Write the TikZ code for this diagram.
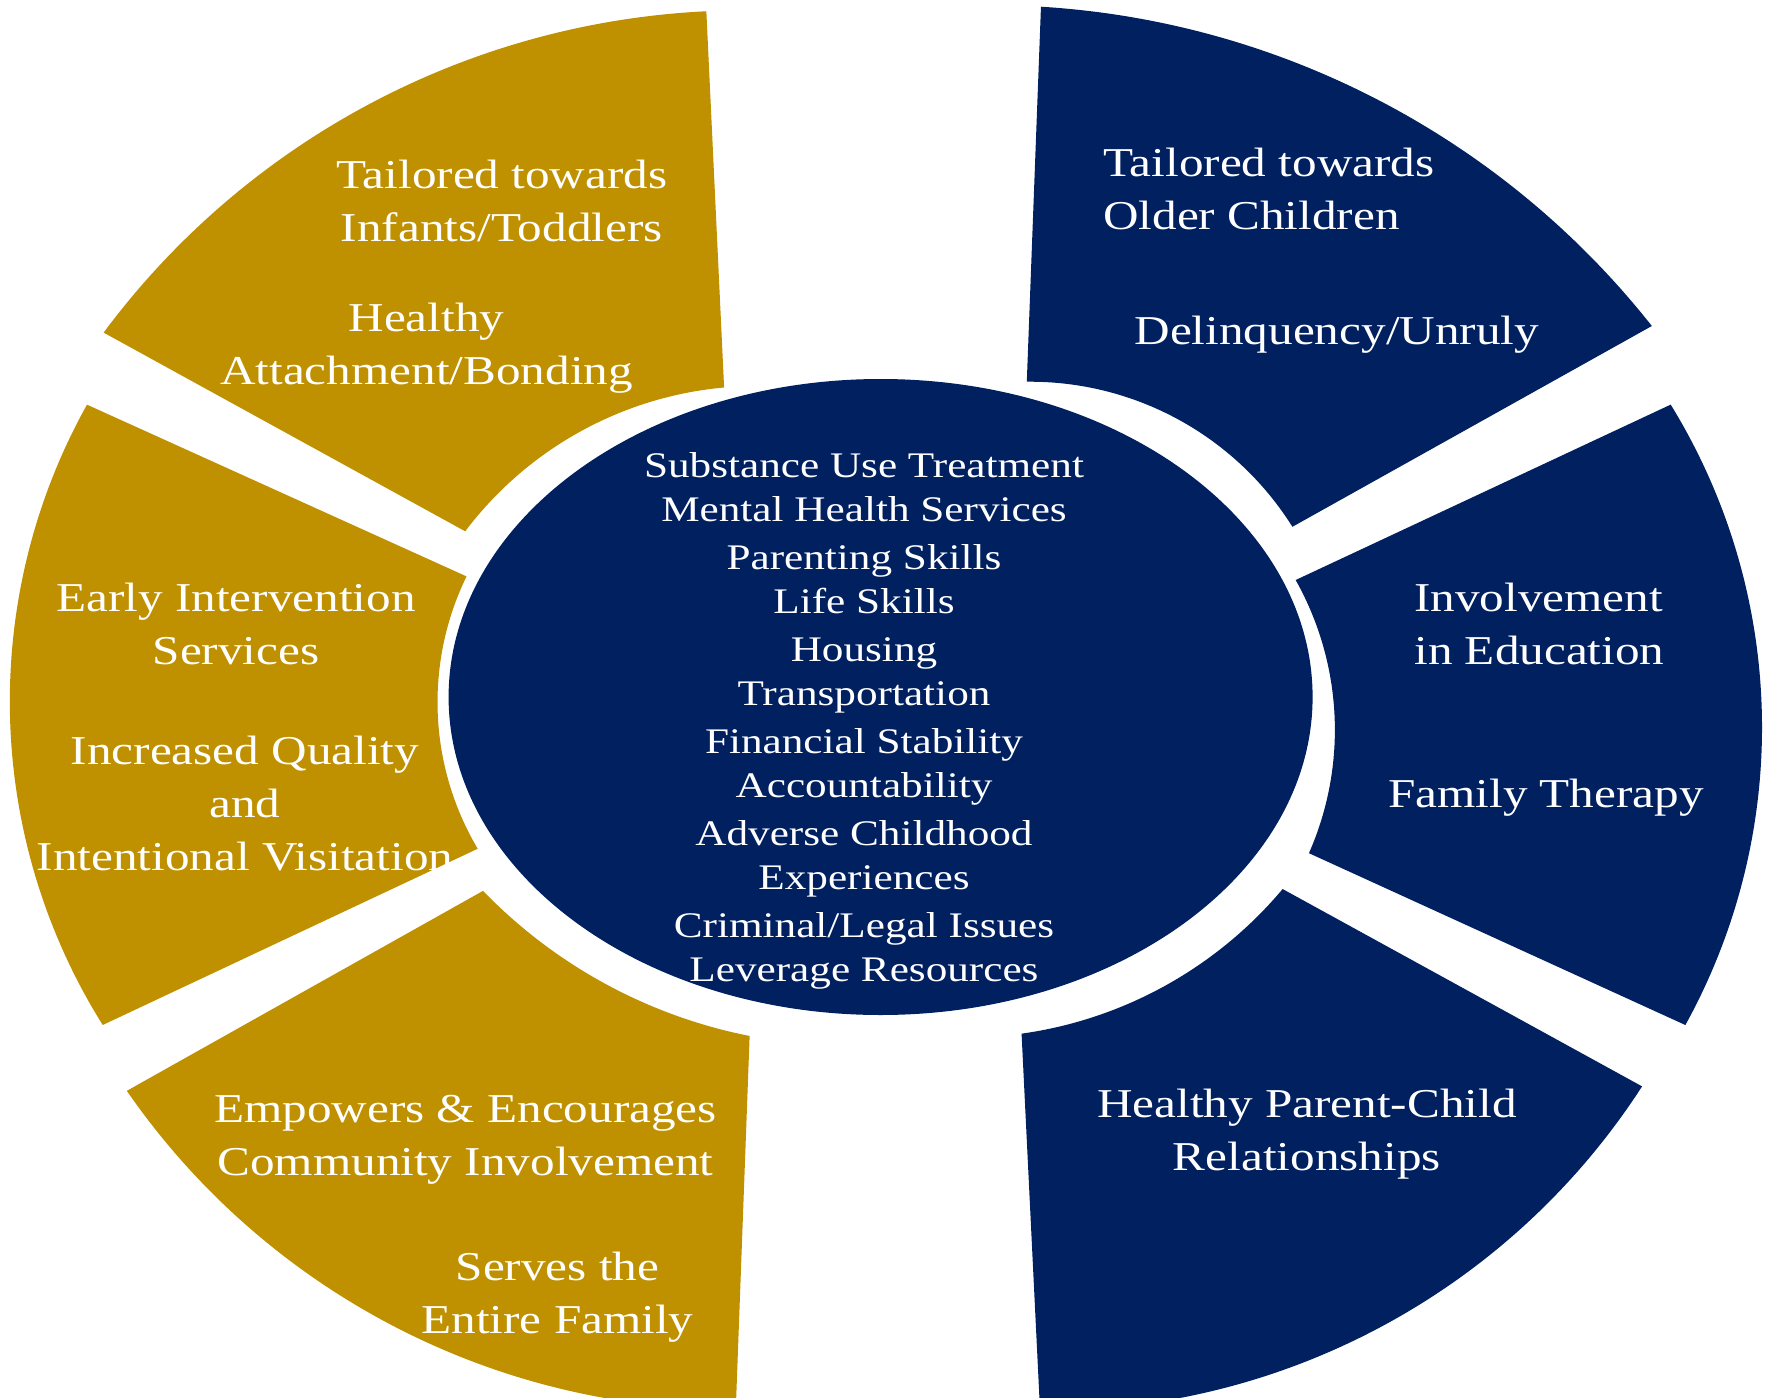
\documentclass[tikz,border=0pt]{standalone}
\usepackage{fontspec}
\setmainfont{Liberation Serif}[FakeStretch=1.2]
\definecolor{gold}{RGB}{191,144,0}
\definecolor{navy}{RGB}{0,32,96}
\begin{document}
\begin{tikzpicture}[x=0.5pt,y=-0.5pt,
  lbl/.style={text=white, inner sep=0pt, align=center, font=\fontsize{20.5}{26.5}\selectfont},
  lbll/.style={lbl, align=left, anchor=west},
  ctr/.style={text=white, inner sep=0pt, align=center, font=\fontsize{18}{21.7}\selectfont}]
\useasboundingbox (0,0) rectangle (1768,1398);
\clip (0,0) rectangle (1768,1398);
% top-left segment
\fill[gold] ([shift={(756.9,751.5)}]-142.95:365.5) arc[start angle=-142.95, end angle=-95.15, radius=365.5]
  -- ([shift={(744.8,809.3)}]-92.76:799) arc[start angle=-92.76, end angle=-143.37, radius=799] -- cycle;
% left segment
\fill[gold] ([shift={(724.8,702.2)}]205.97:287.3) arc[start angle=205.97, end angle=149.33, radius=287.3]
  -- ([shift={(619.4,701.5)}]147.95:609.6) arc[start angle=147.95, end angle=209.14, radius=609.6] -- cycle;
% bottom-left segment
\fill[gold] ([shift={(848,537.8)}]135.95:507.8) arc[start angle=135.95, end angle=101.17, radius=507.8]
  -- (736.2,1398) -- (735.4,1420)
  -- ([shift={(734.5,670.7)}]98:738.8) arc[start angle=98, end angle=145.34, radius=738.8] -- cycle;
% top-right segment
\fill[navy] ([shift={(1030.2,691.2)}]-90.63:309.5) arc[start angle=-90.63, end angle=-32.09, radius=309.5]
  -- ([shift={(989.6,849)}]-38.30:843.9) arc[start angle=-38.30, end angle=-86.51, radius=843.9] -- cycle;
% right segment
\fill[navy] ([shift={(1028.9,729.9)}]-29.33:306) arc[start angle=-29.33, end angle=23.76, radius=306]
  -- ([shift={(1146,727.4)}]28.89:616.05) arc[start angle=28.89, end angle=-31.60, radius=616.05] -- cycle;
% bottom-right segment
\fill[navy] ([shift={(963.8,621.5)}]82.02:416.2) arc[start angle=82.02, end angle=40.0, radius=416.2]
  -- ([shift={(1046.8,702)}]32.85:708.6) arc[start angle=32.85, end angle=81, radius=708.6]
  -- (1040.5,1420) -- cycle;
% centre
\fill[navy] (880.6,697) ellipse [x radius=432, y radius=318];

\node[lbl] (tl1) at (501.8,201.3) {Tailored towards\\Infants/Toddlers};
\node[lbl] (tl2) at (426.5,347.8) {Healthy\\Attachment/Bonding};
\node[lbl] (l1) at (236,624) {Early Intervention\\Services};
\node[lbl] (l2) at (245,803.7) {Increased Quality\\and\\Intentional Visitation};
\node[lbl] (bl1) at (465.5,1140) {Empowers \& Encourages\\Community Involvement};
\node[lbl] (bl2) at (557.5,1296.8) {Serves the\\Entire Family};
\node[lbll] (tr1) at (1102.8,189) {Tailored towards\\Older Children};
\node[lbl] (tr2) at (1336.8,334.5) {Delinquency/Unruly};
\node[lbll] (r1) at (1414,624) {Involvement\\in Education};
\node[lbl] (r2) at (1546,797.8) {Family Therapy};
\node[lbl] (br1) at (1306.9,1134.3) {Healthy Parent-Child\\Relationships};
\node[ctr] (core) at (864,721) {Substance Use Treatment\\Mental Health Services\\[2.6pt]Parenting Skills\\Life Skills\\[2.6pt]Housing\\Transportation\\[2.6pt]Financial Stability\\Accountability\\[2.6pt]Adverse Childhood\\Experiences\\[2.6pt]Criminal/Legal Issues\\Leverage Resources};
\end{tikzpicture}
\end{document}
